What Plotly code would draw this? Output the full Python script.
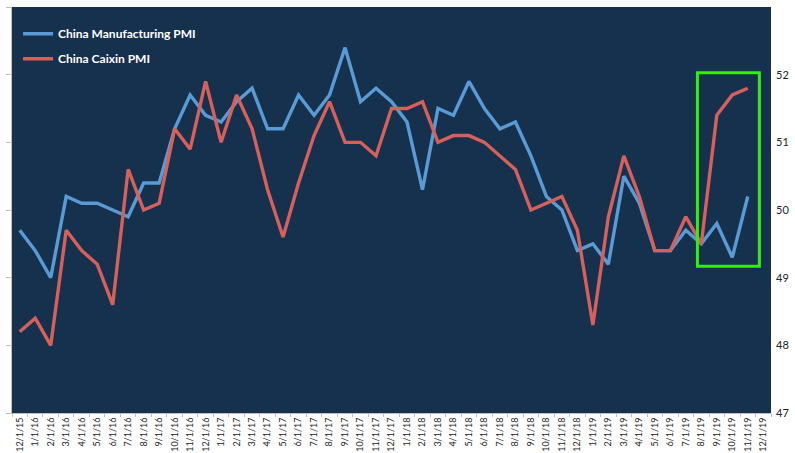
import plotly.graph_objects as go

dates = ["12/1/15", "1/1/16", "2/1/16", "3/1/16", "4/1/16", "5/1/16", "6/1/16", "7/1/16",
         "8/1/16", "9/1/16", "10/1/16", "11/1/16", "12/1/16", "1/1/17", "2/1/17", "3/1/17",
         "4/1/17", "5/1/17", "6/1/17", "7/1/17", "8/1/17", "9/1/17", "10/1/17", "11/1/17",
         "12/1/17", "1/1/18", "2/1/18", "3/1/18", "4/1/18", "5/1/18", "6/1/18", "7/1/18",
         "8/1/18", "9/1/18", "10/1/18", "11/1/18", "12/1/18", "1/1/19", "2/1/19", "3/1/19",
         "4/1/19", "5/1/19", "6/1/19", "7/1/19", "8/1/19", "9/1/19", "10/1/19", "11/1/19",
         "12/1/19"]

manufacturing_pmi = [49.7, 49.4, 49.0, 50.2, 50.1, 50.1, 50.0, 49.9, 50.4, 50.4, 51.2, 51.7,
                     51.4, 51.3, 51.6, 51.8, 51.2, 51.2, 51.7, 51.4, 51.7, 52.4, 51.6, 51.8,
                     51.6, 51.3, 50.3, 51.5, 51.4, 51.9, 51.5, 51.2, 51.3, 50.8, 50.2, 50.0,
                     49.4, 49.5, 49.2, 50.5, 50.1, 49.4, 49.4, 49.7, 49.5, 49.8, 49.3, 50.2]

caixin_pmi = [48.2, 48.4, 48.0, 49.7, 49.4, 49.2, 48.6, 50.6, 50.0, 50.1, 51.2, 50.9,
              51.9, 51.0, 51.7, 51.2, 50.3, 49.6, 50.4, 51.1, 51.6, 51.0, 51.0, 50.8,
              51.5, 51.5, 51.6, 51.0, 51.1, 51.1, 51.0, 50.8, 50.6, 50.0, 50.1, 50.2,
              49.7, 48.3, 49.9, 50.8, 50.2, 49.4, 49.4, 49.9, 49.5, 51.4, 51.7, 51.8]

y_ticks = [47, 48, 49, 50, 51, 52, 53]

# highlight box (category index / value coordinates)
box_x0, box_x1 = 43.75, 47.75
box_y0, box_y1 = 49.17, 52.03

BG = "#16314E"
BLUE = "#5B9BD5"
RED = "#D6605A"

fig = go.Figure()
fig.add_trace(go.Scatter(x=dates[:len(manufacturing_pmi)], y=manufacturing_pmi,
                         mode="lines", name="China Manufacturing PMI",
                         legendgroup="a",
                         line=dict(color=BLUE, width=3.4)))
fig.add_trace(go.Scatter(x=dates[:len(caixin_pmi)], y=caixin_pmi,
                         mode="lines", name="China Caixin PMI",
                         legendgroup="b",
                         line=dict(color=RED, width=3.4)))
# invisible trace so the right-hand value axis is drawn
fig.add_trace(go.Scatter(x=dates[:len(caixin_pmi)], y=caixin_pmi, yaxis="y2",
                         mode="lines", line=dict(color="rgba(0,0,0,0)", width=0),
                         showlegend=False, hoverinfo="skip"))

fig.add_shape(type="rect", xref="x", yref="y",
              x0=box_x0, x1=box_x1, y0=box_y0, y1=box_y1,
              line=dict(color="#33F00A", width=3), fillcolor="rgba(0,0,0,0)")

fig.update_layout(
    width=795, height=453,
    margin=dict(l=12, r=24, t=7, b=40, autoexpand=False),
    paper_bgcolor="white",
    plot_bgcolor=BG,
    showlegend=True,
    legend=dict(x=0.008, y=0.97, xanchor="left", yanchor="top",
                bgcolor="rgba(0,0,0,0)",
                font=dict(family="Lato", size=12, color="white", weight="bold"),
                tracegroupgap=6, traceorder="grouped"),
    xaxis=dict(type="category", categoryorder="array", categoryarray=dates,
               range=[-0.5, len(dates) - 0.5], automargin=False,
               tickmode="array", tickvals=dates, ticktext=dates,
               tickangle=-90, tickfont=dict(family="Lato", size=9, color="#222222"),
               showgrid=False, zeroline=False,
               showline=True, linecolor="#BFBFBF", linewidth=1,
               ticks="outside", tickson="boundaries", ticklen=3, tickcolor="#BFBFBF"),
    yaxis=dict(range=[47, 53], tickvals=y_ticks, showticklabels=False, automargin=False,
               showgrid=False, zeroline=False, side="left",
               showline=True, linecolor="#BFBFBF", linewidth=1,
               ticks="outside", ticklen=5, tickcolor="#BFBFBF"),
    yaxis2=dict(range=[47, 53], tickvals=y_ticks, overlaying="y", side="right",
                automargin=False, showgrid=False, zeroline=False, showline=False,
                ticks="", ticklabelstandoff=4,
                tickfont=dict(family="Lato", size=11, color="#222222")),
)

fig.write_html("out.html", config={"displayModeBar": False},
               post_script="document.body.style.margin='0';document.body.style.padding='0';")
